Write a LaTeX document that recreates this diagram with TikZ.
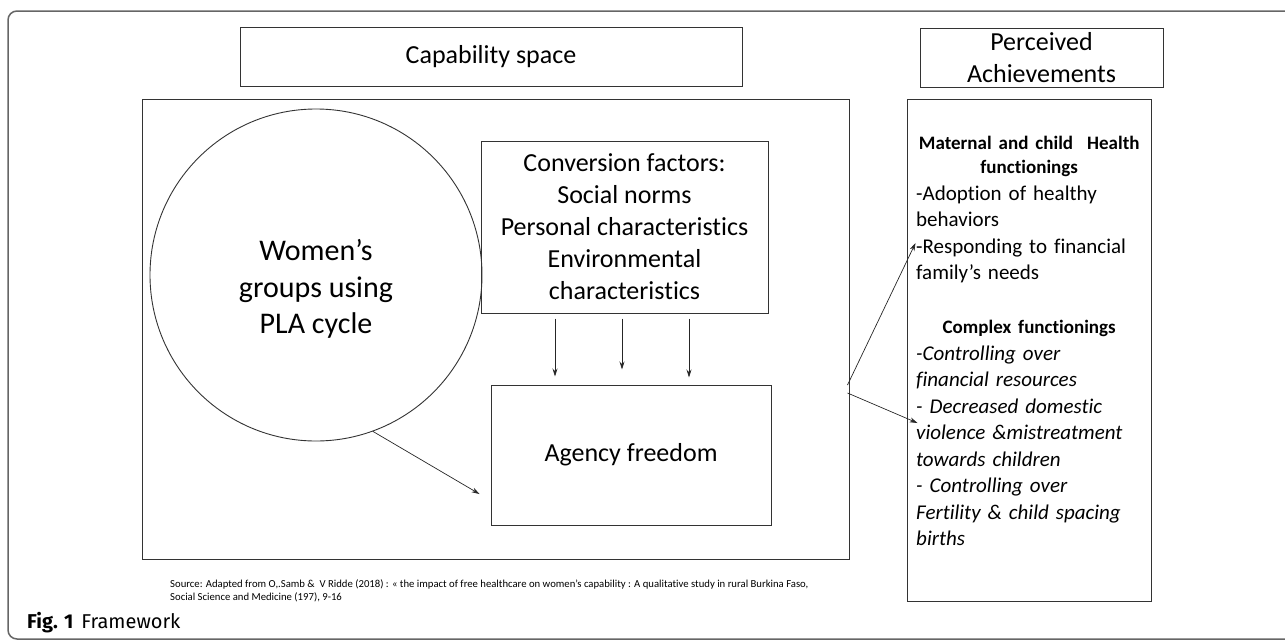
\documentclass[tikz,border=0pt]{standalone}
\usepackage{fontspec}
\setmainfont{Carlito}[Ligatures=NoCommon]
\newfontfamily\figfont{Fira Sans}
\usetikzlibrary{shapes, arrows.meta}

\begin{document}
\begin{tikzpicture}[x=1pt, y=-1pt,
                box/.style = {draw=black!80, line width=1pt, rectangle, inner sep=0pt},
                main/.style = {draw=black!80, line width=0.9pt, circle, inner sep=0pt, minimum size=332pt},
                arr/.style = {-{Stealth[length=8pt, width=5pt]}, line width=0.7pt, draw=black!85},
                big/.style = {font=\fontsize{26}{32}\selectfont, align=center}]
                \useasboundingbox (0,0) rectangle (1285,640);
                \draw[black!60, line width=1.5pt, rounded corners=9pt] (1300,11) -- (8,11) -- (8,639) -- (1300,639);

                \node[box, big, minimum width=502pt, minimum height=59pt] at (491,56.5) (cap) {Capability space};
                \node[box, big, minimum width=243pt, minimum height=59pt] at (1041.5,57.5) (perc) {Perceived\\Achievements};

                \node[box, minimum width=707pt, minimum height=460pt] at (495.5,329) (space) {};
                \node[main] at (316,275) (women) {};
                \node[font=\fontsize{30}{36.5}\selectfont, align=center] at (316,289) (womentxt) {Women’s\\groups using\\PLA cycle};
                \node[box, big, minimum width=287pt, minimum height=172pt] at (624.5,227) (conv) {Conversion factors:\\Social norms\\Personal characteristics\\Environmental\\characteristics};
                \node[box, big, minimum width=280pt, minimum height=140pt] at (631,455) (agency) {Agency freedom};

                \node[box, minimum width=244pt, minimum height=502pt] at (1029,350) (ach) {};
                \node[anchor=north west, inner sep=0pt, text width=226pt, align=left, font=\fontsize{21}{26.5}\selectfont] at (916,136) (achtxt) {%
                {\centering\bfseries\fontsize{19}{24}\selectfont Maternal and child\ \ Health\\functionings\par}
                -Adoption of healthy\\behaviors\\-Responding to financial\\family’s needs\par
                \vspace{30pt}
                {\centering\bfseries\fontsize{19}{24}\selectfont Complex functionings\par}
                {\itshape -Controlling over\\financial resources\\- Decreased domestic\\violence \&mistreatment\\towards children\\- Controlling over\\Fertility \& child spacing\\births\par}};

                \foreach \x/\e in {555/8, 622/15, 689/7}
                    \draw [arr, shorten <=5pt, shorten >=\e pt] (conv.south -| \x,0) -- (agency.north -| \x,0);

                \draw [arr] (women.-70) -- ([xshift=-11pt, yshift=-39pt]agency.west);
                \draw [arr] ([xshift=-2pt, yshift=-56pt]space.east) -- ([xshift=9pt, yshift=107pt]ach.west);
                \draw [arr] ([xshift=-2pt, yshift=-64pt]space.east) -- ([xshift=11pt, yshift=-73pt]ach.west);

                \node[anchor=north west, inner sep=0pt, align=left, font=\fontsize{10.7}{13.5}\selectfont] at (170,579) (src) {Source: Adapted from O,.Samb \&\ \ V Ridde (2018) : « the impact of free healthcare on women’s capability : A qualitative study in rural Burkina Faso,\\Social Science and Medicine (197), 9-16};
                \node[anchor=west, inner sep=0pt, font=\figfont\fontsize{20}{24}\selectfont] at (27,623) (fig) {\textbf{Fig. 1}\hspace{8pt}Framework};
            \end{tikzpicture}
\end{document}
